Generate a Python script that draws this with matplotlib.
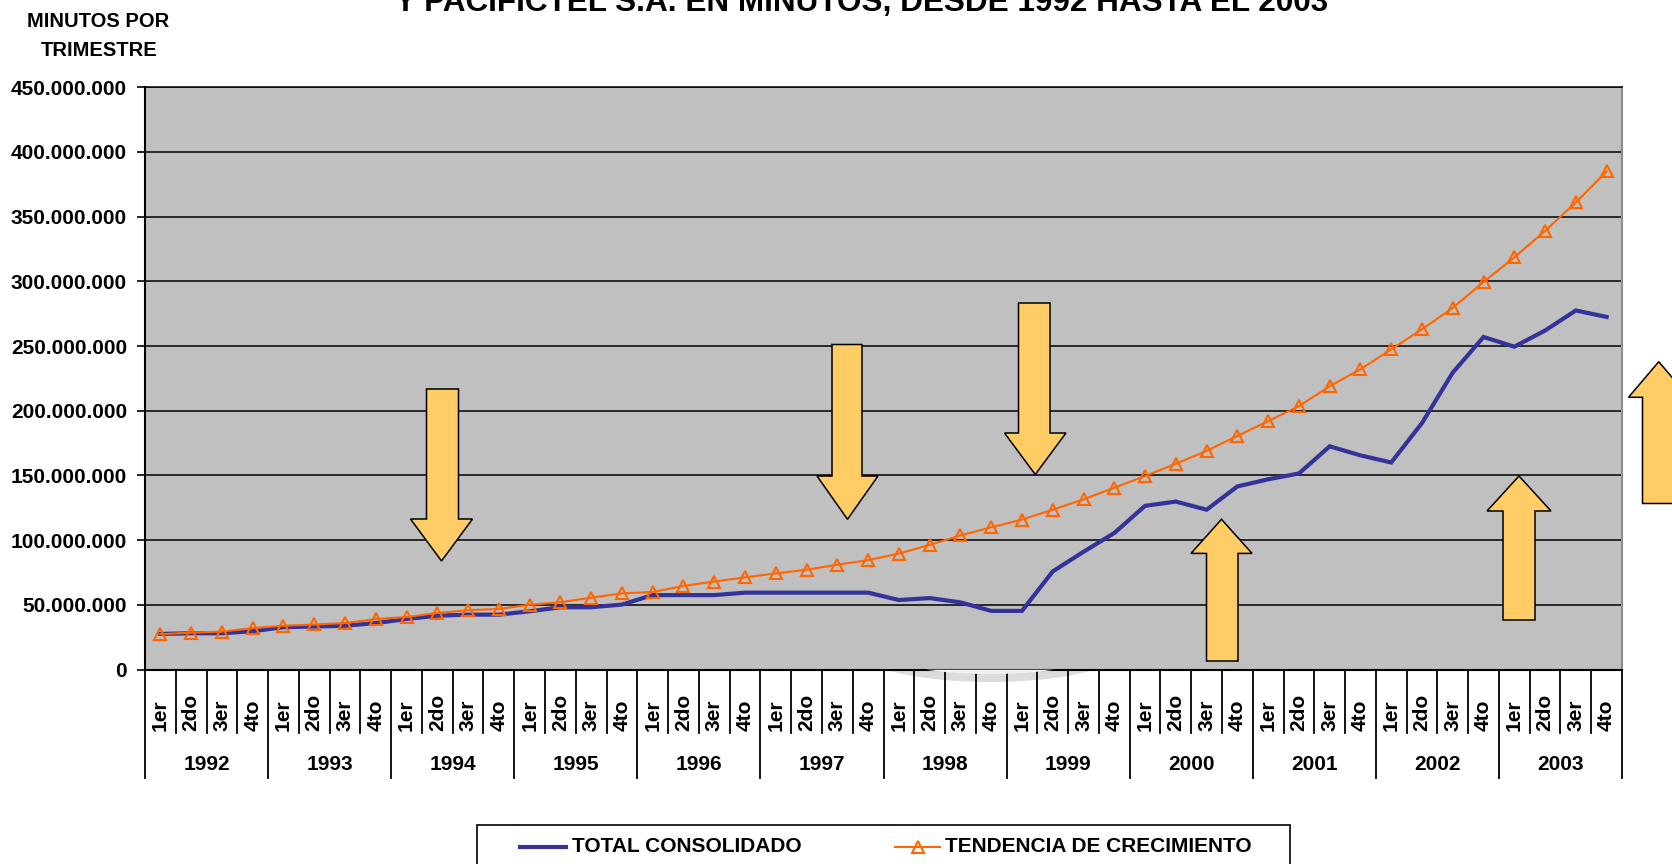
import numpy as np
import matplotlib
matplotlib.use('Agg')
import matplotlib.pyplot as plt
from matplotlib.patches import Polygon, Rectangle
from matplotlib.lines import Line2D
import matplotlib.transforms as mtransforms
from matplotlib.ticker import FuncFormatter

# ---------------- data (millions of minutes per quarter) ----------------
years = ['1992', '1993', '1994', '1995', '1996', '1997',
         '1998', '1999', '2000', '2001', '2002', '2003']
quarters = ['1er', '2do', '3er', '4to']

total_consolidado = [27.5, 28.0, 28.0, 29.6, 32.7, 33.2, 33.8, 35.9,
                     39.0, 41.6, 42.4, 42.4, 45.0, 48.1, 48.1, 50.2,
                     57.5, 57.5, 57.5, 59.4, 59.4, 59.4, 59.4, 59.4,
                     53.7, 55.2, 51.9, 45.3, 45.3, 75.8, 91.0, 105.5,
                     126.5, 129.8, 123.5, 141.5, 147.0, 151.5, 172.5, 165.5,
                     160.0, 190.5, 229.5, 257.0, 249.5, 262.0, 277.5, 272.5]

tendencia = [27.3, 28.5, 29.3, 32.0, 33.8, 34.8, 35.9, 39.0,
             40.6, 43.7, 45.8, 46.8, 50.0, 52.0, 55.5, 58.9,
             59.9, 64.6, 68.0, 71.2, 74.3, 77.1, 81.0, 84.5,
             89.6, 96.3, 103.6, 109.9, 115.9, 123.5, 131.5, 140.5,
             149.5, 159.0, 169.0, 180.5, 192.0, 203.5, 219.0, 232.0,
             247.5, 263.0, 279.5, 299.5, 318.5, 339.0, 361.0, 385.0]

y_ticks = [0, 50e6, 100e6, 150e6, 200e6, 250e6, 300e6, 350e6, 400e6, 450e6]

series_names = ['TOTAL CONSOLIDADO', 'TENDENCIA DE CRECIMIENTO']
title_text = 'Y PACIFICTEL S.A. EN MINUTOS, DESDE 1992 HASTA EL 2003'

# ---------------- style ----------------
plt.rcParams['font.family'] = ['Liberation Sans', 'DejaVu Sans']
plt.rcParams['font.weight'] = 'bold'

BLUE = '#333399'
ORANGE = '#FF6600'
ARROW_FC = '#FFCC66'

W, H = 1672, 864
fig = plt.figure(figsize=(W / 100, H / 100), dpi=100)
fig.patch.set_facecolor('white')


def fx(x):
    return x / W


def fy(y):
    return 1 - y / H


L, R, T, B = 145, 1622, 87.3, 669.5
ax = fig.add_axes([fx(L), fy(B), (R - L) / W, (B - T) / H])
ax.set_facecolor('#C0C0C0')

n = len(years) * len(quarters)
xpos = np.arange(n) + 0.5
ax.plot(xpos, np.array(total_consolidado) * 1e6, color=BLUE, lw=3.0,
        solid_joinstyle='miter', zorder=3)
ax.plot(xpos, np.array(tendencia) * 1e6, color=ORANGE, lw=1.5, marker='^',
        ms=8, mfc='none', mec=ORANGE, mew=1.5, zorder=4)

ax.set_xlim(0, n)
ax.set_ylim(0, 450e6)
ax.set_yticks(y_ticks)
ax.yaxis.set_major_formatter(
    FuncFormatter(lambda v, p: f"{int(round(v)):,}".replace(',', '.')))
ax.tick_params(axis='y', length=6, width=1.2, pad=7, labelsize=15,
               direction='out', colors='black')
ax.set_xticks([])
ax.yaxis.grid(True, color='black', lw=1.1)
ax.set_axisbelow(True)

for s in ['left', 'bottom']:
    ax.spines[s].set_color('black')
    ax.spines[s].set_linewidth(1.5)
ax.spines['top'].set_color('black')
ax.spines['top'].set_linewidth(1.1)
ax.spines['right'].set_color('#8C8C8C')
ax.spines['right'].set_linewidth(1.5)

# faint shadow arc below the axis
cx, cy, a_out, b_out = 990, 650, 132, 32
t = np.linspace(0, np.pi, 200)
ex = cx + a_out * np.cos(t)
ey = cy + b_out * np.sin(t)
mask = ey >= B
pts = [(fx(xx), fy(yy)) for xx, yy in zip(ex[mask], ey[mask])]
fig.add_artist(Polygon(pts, closed=True, transform=fig.transFigure,
                       facecolor='#DCDCDC', edgecolor='none', zorder=0))
ex2 = cx + 112 * np.cos(t)
ey2 = cy + 24 * np.sin(t)
mask2 = ey2 >= B
if mask2.sum() > 2:
    pts2 = [(fx(xx), fy(yy)) for xx, yy in zip(ex2[mask2], ey2[mask2])]
    fig.add_artist(Polygon(pts2, closed=True, transform=fig.transFigure,
                           facecolor='#F2F2F2', edgecolor='none', zorder=0.5))

# multi-level category axis
trans = mtransforms.blended_transform_factory(ax.transData, ax.transAxes)
q_depth = -(733 - B) / (B - T)
y_depth = -(778 - B) / (B - T)
q_lab = -(731 - B) / (B - T)
y_lab = -(765 - B) / (B - T)
for i in range(n + 1):
    d = y_depth if i % 4 == 0 else q_depth
    ax.plot([i, i], [0, d], transform=trans, color='black', lw=1.3,
            clip_on=False, zorder=5)
for i in range(n):
    ax.text(i + 0.5, q_lab, quarters[i % 4], rotation=90, ha='center',
            va='bottom', transform=trans, fontsize=15)
for k, yr in enumerate(years):
    ax.text(4 * k + 2, y_lab, yr, ha='center', va='center',
            transform=trans, fontsize=15)

# titles (the first title line lies above the picture, as in the original)
fig.text(fx(862), fy(10.5), title_text, ha='center', va='baseline',
         fontsize=22.7, weight='bold')
fig.text(fx(98), fy(21.5), 'MINUTOS POR', ha='center', va='center',
         fontsize=14.5)
fig.text(fx(99.5), fy(50), 'TRIMESTRE', ha='center', va='center',
         fontsize=14.5)

# block arrows (annotation shapes)
def down_arrow(sx0, sx1, top, hy, hx0, hx1, tipy):
    tx = (hx0 + hx1) / 2
    return [(sx0, top), (sx1, top), (sx1, hy), (hx1, hy), (tx, tipy),
            (hx0, hy), (sx0, hy)]


def up_arrow(sx0, sx1, bottom, hy, hx0, hx1, tipy):
    tx = (hx0 + hx1) / 2
    return [(sx0, bottom), (sx1, bottom), (sx1, hy), (hx1, hy), (tx, tipy),
            (hx0, hy), (sx0, hy)]


arrows = [
    down_arrow(426.5, 458.5, 389, 519, 410.5, 472.5, 561),
    down_arrow(832, 862, 344.5, 476, 817, 878, 519.3),
    down_arrow(1018.5, 1050, 303, 433, 1004.5, 1066, 474.5),
    up_arrow(1206.5, 1238, 661, 553.4, 1191, 1252, 519.3),
    up_arrow(1503, 1535, 620, 511, 1487, 1551, 476),
    up_arrow(1642.5, 1675, 503.5, 397.3, 1628.5, 1689, 361.7),
]
for arr in arrows:
    fig.add_artist(Polygon([(fx(px), fy(py)) for px, py in arr], closed=True,
                           transform=fig.transFigure, facecolor=ARROW_FC,
                           edgecolor='black', lw=1.1, zorder=10))

# legend (drawn manually, box runs off the bottom edge)
fig.add_artist(Rectangle((fx(477), fy(885)), (1290 - 477) / W, (885 - 825) / H,
                         transform=fig.transFigure, facecolor='white',
                         edgecolor='black', lw=1.2, zorder=6))
ly = fy(847)
fig.add_artist(Line2D([fx(520), fx(566)], [ly, ly], color=BLUE, lw=3,
                      transform=fig.transFigure, zorder=7))
fig.text(fx(572), ly, series_names[0], ha='left', va='center', fontsize=15,
         zorder=7)
fig.add_artist(Line2D([fx(895), fx(940)], [ly, ly], color=ORANGE, lw=1.5,
                      transform=fig.transFigure, zorder=7))
fig.add_artist(Line2D([fx(917.5)], [ly], color=ORANGE, marker='^', ms=8,
                      mfc='none', mec=ORANGE, mew=1.5, lw=0,
                      transform=fig.transFigure, zorder=7))
fig.text(fx(945), ly, series_names[1], ha='left', va='center', fontsize=15,
         zorder=7)

fig.savefig('out.png', dpi=100)
